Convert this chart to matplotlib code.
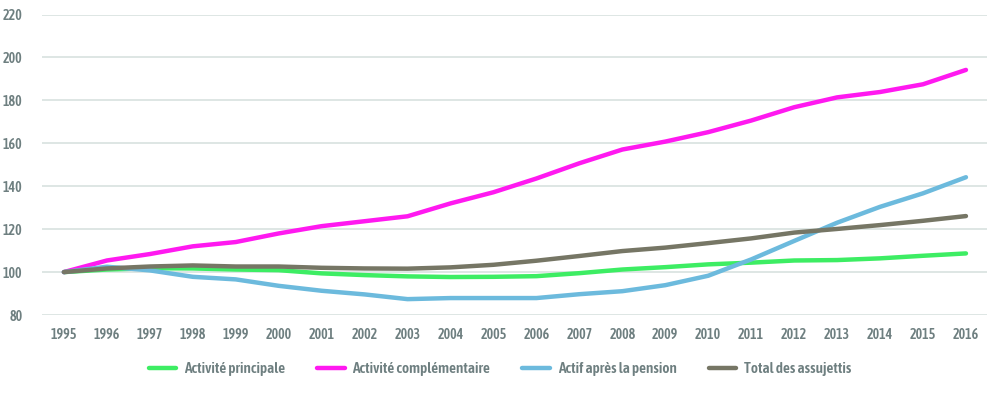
import matplotlib
matplotlib.use("Agg")
import matplotlib.pyplot as plt

years = list(range(1995, 2017))

principale = [100, 101.2, 101.8, 101.7, 101.2, 100.9, 99.4, 98.6, 98.0, 97.7, 97.8,
              98.1, 99.5, 101.2, 102.3, 103.6, 104.4, 105.4, 105.6, 106.4, 107.6, 108.7]
complementaire = [100, 105.4, 108.4, 112.0, 114.0, 118.0, 121.4, 123.7, 126.0, 132.0, 137.2,
                  143.6, 150.7, 157.1, 160.8, 165.2, 170.6, 176.8, 181.4, 183.9, 187.5, 194.2]
apres_pension = [100, 102.5, 100.8, 97.8, 96.6, 93.6, 91.3, 89.6, 87.4, 87.9, 87.9,
                 87.9, 89.7, 91.1, 93.9, 98.3, 105.9, 114.5, 123.0, 130.4, 136.7, 144.2]
total = [100, 101.7, 102.6, 103.1, 102.6, 102.6, 102.0, 101.7, 101.6, 102.2, 103.4,
         105.3, 107.5, 109.8, 111.4, 113.5, 115.7, 118.4, 120.1, 121.9, 123.9, 126.1]

labels = ["Activité principale", "Activité complémentaire",
          "Actif après la pension", "Total des assujettis"]
colors = ["#3ded63", "#ff19f0", "#6cbadd", "#767665"]

TEXT = "#6e7f80"
GRID = "#d5dfdd"

plt.rcParams["font.family"] = ["Asap Condensed", "Liberation Sans Narrow", "DejaVu Sans"]

fig = plt.figure(figsize=(10, 3.98), dpi=100)
ax = fig.add_axes([0.042, 0.2085, 0.945, 0.755])

series = [principale, complementaire, apres_pension, total]
order = [2, 0, 3, 1]
for i in order:
    ax.plot(years, series[i], color=colors[i], lw=3.2, solid_capstyle="round",
            solid_joinstyle="round", label=labels[i], zorder=3 + i)

ax.set_xlim(1994.49, 2016.49)
ax.set_ylim(80, 220)
ax.set_yticks(range(80, 221, 20))
ax.set_xticks(years)
ax.grid(axis="y", color=GRID, lw=1.1)
ax.set_axisbelow(True)
for s in ax.spines.values():
    s.set_visible(False)
ax.tick_params(length=0, labelsize=10, labelcolor=TEXT)
ax.tick_params(axis="y", pad=14)
ax.tick_params(axis="x", pad=9)
for t in ax.get_xticklabels() + ax.get_yticklabels():
    t.set_fontweight(600)

handles, labs = ax.get_legend_handles_labels()
hmap = dict(zip(labs, handles))
leg = fig.legend([hmap[l] for l in labels], labels, loc="center",
                 bbox_to_anchor=(0.5, 0.073), ncol=4, frameon=False,
                 handlelength=1.8, columnspacing=2.1, handletextpad=0.5,
                 prop={"size": 11, "weight": 600})
for t in leg.get_texts():
    t.set_color(TEXT)

fig.savefig("out.png", dpi=100, facecolor="white")
